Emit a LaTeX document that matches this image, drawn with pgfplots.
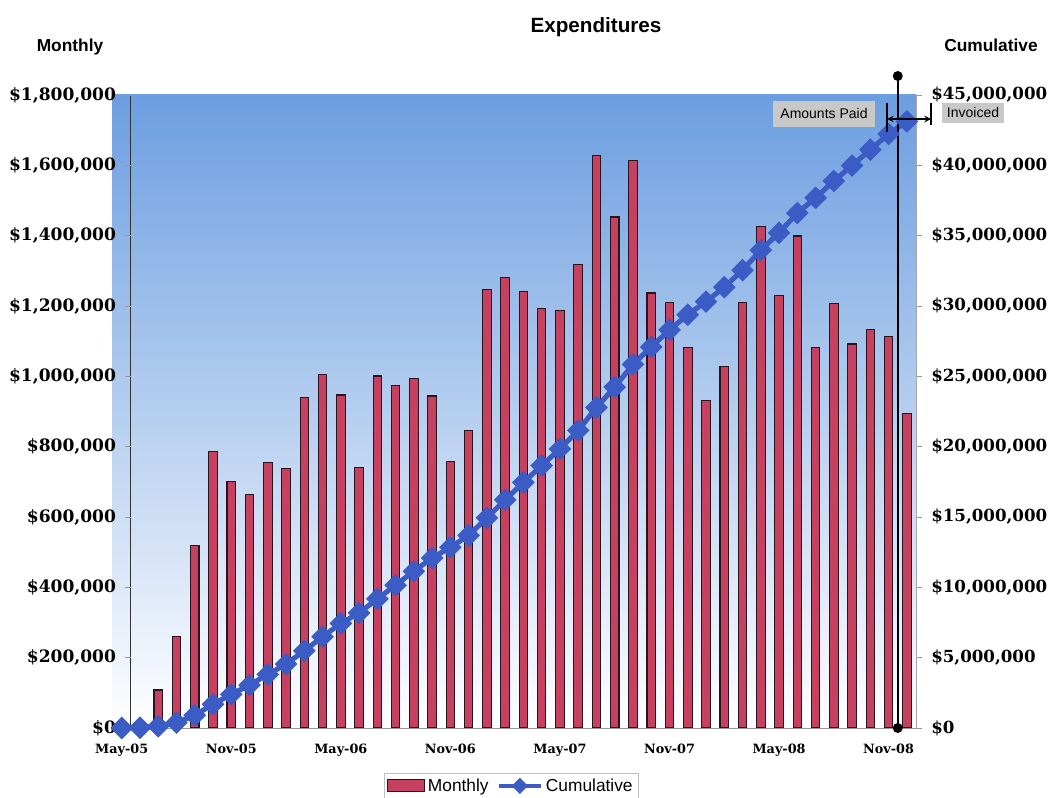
\documentclass[border=0pt]{standalone}
\usepackage{pgfplots}
\pgfplotsset{compat=1.18}
\usepackage{pgfplotstable}
\usepackage{fontspec}
\setmainfont{Liberation Sans}
\newfontfamily\dvs{DejaVu Serif}
\definecolor{barred}{RGB}{198,64,96}
\definecolor{bardraw}{RGB}{40,20,28}
\definecolor{cumblue}{RGB}{58,92,196}
\definecolor{bgtop}{RGB}{108,158,224}
\definecolor{boxgray}{RGB}{200,200,200}
\pgfplotsset{
  cumleg/.style={legend image code/.code={\draw[mark repeat=2,mark phase=2,##1, line width=3pt, mark size=2.8pt] plot coordinates {(0pt,0pt) (16pt,0pt) (32pt,0pt)};}},
  barleg/.style={legend image code/.code={\draw[fill=barred, draw=bardraw, line width=0.8pt] (0pt,-4.5pt) rectangle (28pt,4.5pt);}},
}

\pgfplotstableread{
i monthly cumulative
0 0 0
1 17000 17000
2 108000 125000
3 259000 384000
4 520000 904000
5 785000 1689000
6 700000 2389000
7 665000 3054000
8 754000 3808000
9 737000 4545000
10 941000 5486000
11 1004000 6490000
12 947000 7437000
13 742000 8179000
14 1001000 9180000
15 973000 10153000
16 993000 11146000
17 944000 12090000
18 759000 12849000
19 847000 13696000
20 1246000 14942000
21 1280000 16222000
22 1240000 17462000
23 1192000 18654000
24 1186000 19840000
25 1317000 21157000
26 1627000 22784000
27 1453000 24237000
28 1615000 25852000
29 1237000 27089000
30 1209000 28298000
31 1083000 29381000
32 930000 30311000
33 1027000 31338000
34 1211000 32549000
35 1425000 33974000
36 1231000 35205000
37 1399000 36604000
38 1083000 37687000
39 1206000 38893000
40 1092000 39985000
41 1132000 41117000
42 1112000 42229000
43 893000 43122000
}\datatable

\begin{document}
\begin{tikzpicture}
\begin{axis}[
  scale only axis, width=602.55pt, height=474.75pt,
  xmin=-0.5, xmax=43.5, ymin=0, ymax=1800000,
  axis background/.style={top color=bgtop, bottom color=white},
  axis x line*=bottom, axis y line*=left,
  axis line style={draw=none},
  tick align=outside,
  xtick={0,6,12,18,24,30,36,42},
  xticklabels={May-05,Nov-05,May-06,Nov-06,May-07,Nov-07,May-08,Nov-08},
  xtick style={draw=none},
  minor xtick={0.5,1.5,...,43.5},
  minor tick length=4pt,
  minor x tick style={gray!80},
  xticklabel style={font=\dvs\bfseries\fontsize{9.6}{11}\selectfont, anchor=north, inner sep=0pt, yshift=-7.5pt},
  ytick={0,200000,400000,600000,800000,1000000,1200000,1400000,1600000,1800000},
  yticklabels={{\$0},{\$200,000},{\$400,000},{\$600,000},{\$800,000},{\$1,000,000},{\$1,200,000},{\$1,400,000},{\$1,600,000},{\$1,800,000}},
  scaled y ticks=false,
  ytick style={draw=none},
  yticklabel style={font=\dvs\bfseries\fontsize{12.8}{14}\selectfont, anchor=east, inner sep=0pt, xshift=7pt},
  ybar, bar width=6.4pt,
  clip=false,
]
\addplot[fill=barred, draw=bardraw, line width=0.8pt] table[x=i,y=monthly]{\datatable};
\draw[gray!40!black, line width=0.75pt] (axis cs:0.5,0) -- (axis cs:0.5,1800000);
\draw[gray!80, line width=0.6pt] (axis cs:0.5,0) -- (axis cs:43.5,0);
\pgfplotsinvokeforeach{0,200000,400000,600000,800000,1000000,1200000,1400000,1600000,1800000}{
  \draw[gray!80, line width=0.6pt] (axis cs:0.5,#1) -- ++(-4.5pt,0pt);
}
\end{axis}
\begin{axis}[
  scale only axis, width=602.55pt, height=474.75pt,
  xmin=-0.5, xmax=43.5, ymin=0, ymax=45000000,
  axis x line=none, axis y line*=right,
  y axis line style={draw=gray!70, line width=0.6pt},
  tick align=outside, major tick length=4.5pt,
  ytick style={gray!80, line width=0.6pt},
  ytick={0,5000000,10000000,15000000,20000000,25000000,30000000,35000000,40000000,45000000},
  yticklabels={{\$0},{\$5,000,000},{\$10,000,000},{\$15,000,000},{\$20,000,000},{\$25,000,000},{\$30,000,000},{\$35,000,000},{\$40,000,000},{\$45,000,000}},
  scaled y ticks=false,
  yticklabel style={font=\dvs\bfseries\fontsize{12.5}{14}\selectfont, anchor=west, inner sep=0pt, xshift=6.75pt},
  clip=false,
  legend style={at={(0.496,-0.0711)}, anchor=north, legend columns=2, draw=gray!50, fill=white,
    font=\fontsize{13}{15}\selectfont, inner sep=2pt,
    /tikz/every even column/.append style={column sep=4pt}},
]
\addlegendimage{barleg}
\addlegendentry{Monthly}
\addplot[cumblue, line width=3.8pt, mark=square*, mark size=4.1pt, mark options={rotate=45, solid}, cumleg]
  table[x=i,y=cumulative]{\datatable};
\addlegendentry{Cumulative}
\draw[black, line width=1.5pt] (axis cs:42.5,0) -- (axis cs:42.5,46350000);
\fill[black] (axis cs:42.5,0) circle (3.75pt);
\fill[black] (axis cs:42.5,46350000) circle (3.75pt);
\end{axis}
\begin{scope}[x=0.75pt, y=-0.75pt, shift={(-84.45pt,546pt)}]
\node[font=\bfseries\fontsize{15.5}{18}\selectfont] at (596,27) {Expenditures};
\node[font=\bfseries\fontsize{13}{15}\selectfont] at (70,47) {Monthly};
\node[font=\bfseries\fontsize{13}{15}\selectfont] at (991,45) {Cumulative};
\node[fill=boxgray, font=\fontsize{10.5}{12}\selectfont, minimum width=76.5pt, minimum height=19pt, inner sep=0pt] at (824,114) {Amounts Paid};
\node[fill=boxgray, font=\fontsize{10.5}{12}\selectfont, minimum width=47pt, minimum height=15pt, inner sep=0pt] at (973,113) {Invoiced};
\draw[<->, >=stealth, line width=1.2pt] (887,119) -- (931,119);
\draw[line width=1.2pt] (887,103) -- (887,132);
\draw[line width=1.2pt] (931,103) -- (931,125);
\end{scope}
\pgfresetboundingbox
\path (-84.45pt,-51.75pt) rectangle (705.3pt,546pt);
\end{tikzpicture}
\end{document}
